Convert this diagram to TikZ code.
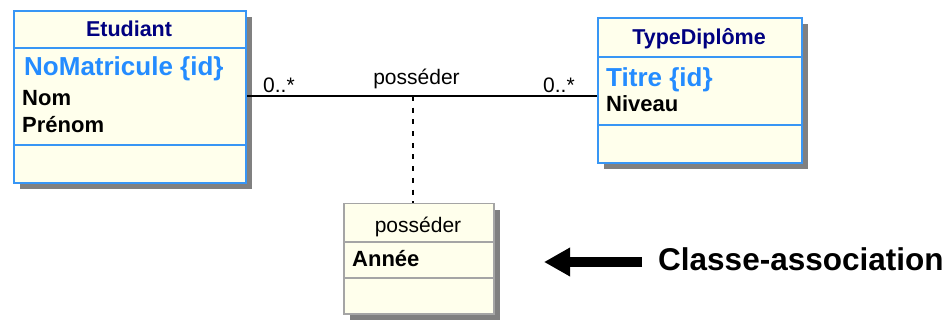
\documentclass[tikz,border=0pt]{standalone}
\usepackage{fontspec}
\setmainfont{Liberation Sans}
\usetikzlibrary{arrows.meta}
\definecolor{boxfill}{RGB}{255,255,236}
\definecolor{boxblue}{RGB}{56,150,245}
\definecolor{idblue}{RGB}{36,140,255}
\definecolor{hdrnavy}{RGB}{0,0,128}
\definecolor{shadowgray}{RGB}{128,128,128}
\definecolor{assocgray}{RGB}{165,165,165}
\tikzset{
  classbox/.style={draw=boxblue, line width=2pt, fill=boxfill, anchor=north west, inner sep=0pt},
  assocbox/.style={draw=assocgray, line width=1.5pt, fill=boxfill, anchor=north west, inner sep=0pt},
  bluesep/.style={draw=boxblue, line width=2pt},
  graysep/.style={draw=assocgray, line width=1.5pt},
  hdr/.style={font=\fontsize{21.5}{24}\selectfont\bfseries, text=hdrnavy, anchor=base, inner sep=0pt},
  idattr/.style={font=\fontsize{26}{28}\selectfont\bfseries, text=idblue, anchor=base west, inner sep=0pt},
  attr/.style={font=\fontsize{22}{24}\selectfont\bfseries, text=black, anchor=base west, inner sep=0pt},
  lbl/.style={font=\fontsize{21}{23}\selectfont, text=black, inner sep=0pt},
  shadowbox/.style={fill=shadowgray, draw=none}
}
\begin{document}
\begin{tikzpicture}[x=1pt,y=-1pt]
\useasboundingbox (0,0) rectangle (950,320);
% Etudiant
\fill[shadowbox] (20,17) rectangle (252,189);
\node[classbox, minimum width=232pt, minimum height=172pt] (etud) at (13,10) {};
\draw[bluesep] (13,48) -- (245,48);
\draw[bluesep] (13,145) -- (245,145);
\node[hdr] (etudname) at (129,37) {Etudiant};
\node[idattr] (etudid) at (24,76) {NoMatricule \{id\}};
\node[attr] (etudnom) at (22,106) {Nom};
\node[attr] (etudprenom) at (22,133) {Prénom};
% TypeDiplome
\fill[shadowbox] (604,24) rectangle (808,169);
\node[classbox, minimum width=204pt, minimum height=145pt] (type) at (597,17) {};
\draw[bluesep] (597,57) -- (801,57);
\draw[bluesep] (597,125) -- (801,125);
\node[hdr] (typename) at (699,45) {TypeDiplôme};
\node[idattr] (typeid) at (606,87) {Titre \{id\}};
\node[attr] (typeniv) at (606,112) {Niveau};
% association class
\fill[shadowbox] (350,210) rectangle (500,320);
\node[assocbox, minimum width=150pt, minimum height=110pt] (assoc) at (343,203) {};
\draw[graysep] (343,242) -- (493,242);
\draw[graysep] (343,278) -- (493,278);
\node[lbl, anchor=base] (assocname) at (418,233) {posséder};
\node[attr] (assocannee) at (352,266) {Année};
% association line
\coordinate (mid) at (413,96);
\draw[line width=2pt] (etud.east |- mid) -- (type.west |- mid);
\draw[line width=2pt, dash pattern=on 5pt off 6.7pt] (mid) -- (assoc.north -| mid);
\node[lbl, anchor=base west] (multL) at (263,93) {0..*};
\node[lbl, anchor=base west] (multR) at (543,93) {0..*};
\node[lbl, anchor=base] (assoclbl) at (416.5,85) {posséder};
% pointer arrow
\node[font=\fontsize{31.5}{34}\selectfont\bfseries, anchor=base west, inner sep=0pt] (note) at (658,271) {Classe-association};
\coordinate (arrtip) at (544,262);
\draw[line width=10pt, -{Triangle[length=26pt,width=27pt]}] (note.west |- arrtip) ++(-16,0) -- (arrtip);
\end{tikzpicture}
\end{document}
